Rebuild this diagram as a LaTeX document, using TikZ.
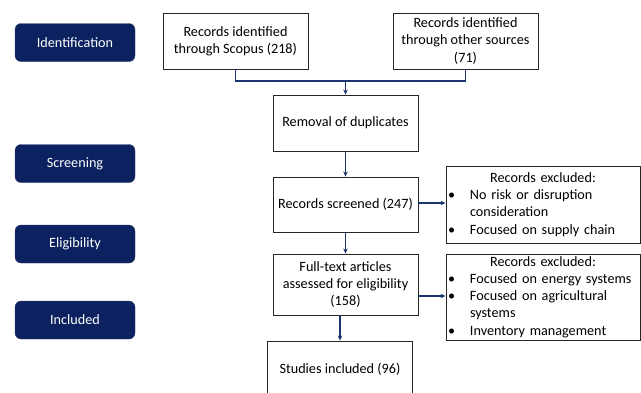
\documentclass[tikz,border=0pt]{standalone}
\usepackage{fontspec}
\setmainfont{Carlito}
\usetikzlibrary{arrows.meta,positioning}
\definecolor{navy}{HTML}{0C2260}
\definecolor{flow}{HTML}{1A3470}
\newcommand{\exitem}[1]{\par\noindent\hangindent=22pt\hangafter=1\makebox[22pt][l]{\textbullet}#1}

\begin{document}
\begin{tikzpicture}[x=1pt,y=-1pt,font=\fontsize{14.2}{17.2}\selectfont]
  \tikzstyle{stage}=[rectangle,rounded corners=6pt,fill=navy,draw=navy!70!gray,
                     text=white,minimum width=120pt,minimum height=38pt]
  \tikzstyle{stepbox}=[rectangle,draw=black!85,line width=0.9pt,fill=white,
                       align=center,minimum width=145pt,inner sep=2pt]
  \tikzstyle{exbox}=[rectangle,draw=black!85,line width=0.9pt,fill=white,
                     text width=190pt,minimum width=194pt,inner sep=2pt]
  \tikzstyle{flowline}=[draw=flow,line width=1.1pt]
  \tikzstyle{flowarrow}=[flowline,-{Stealth[length=5pt,width=4.5pt]}]

  \useasboundingbox (0,0) rectangle (641,392);

  \foreach \name/\y/\text in {ident/42.5/Identification, screen/163.5/Screening,
                              elig/244/Eligibility, incl/320/Included}
    \node[stage] (S-\name) at (75,\y) {\text};

  \node[stepbox,minimum height=56pt] (scopus) at (235.5,41)
    {Records identified\\through Scopus (218)};
  \node[stepbox,minimum height=56pt] (other) at (465.5,41)
    {Records identified\\through other sources\\(71)};
  \node[stepbox,minimum height=56pt] (dupl) at (345.5,123)
    {Removal of duplicates};
  \node[stepbox,minimum height=55pt] (screened) at (345.5,204.5)
    {Records screened (247)};
  \node[stepbox,minimum height=61pt] (fulltext) at (345.5,284.5)
    {Full-text articles\\assessed for eligibility\\(158)};
  \node[stepbox,minimum height=56pt] (studies) at (340,369)
    {Studies included (96)};

  \node[exbox,minimum height=77pt] (excl-1) at (543,204.5)
    {{\centering Records excluded:\par}\raggedright
     \exitem{No risk or disruption consideration}
     \exitem{Focused on supply chain}};
  \node[exbox,minimum height=86pt] (excl-2) at (543,297)
    {{\centering Records excluded:\par}\raggedright
     \exitem{Focused on energy systems}
     \exitem{Focused on agricultural systems}
     \exitem{Inventory management}};

  % merge of the two sources
  \coordinate (join) at (dupl.north |- 0,81);
  \draw[flowline] (scopus.south) |- (join) -| (other.south);
  \draw[flowarrow] (join) -- (dupl.north);

  \foreach \from/\to in {dupl/screened}
    \draw[flowarrow] (\from) -- (\to);
  \draw[flowarrow] (studies.north |- fulltext.south) -- (studies.north);
  \draw[flowarrow] (screened.south) -- (fulltext.north);

  \draw[flowarrow] (screened.east |- 0,203) -- (excl-1.west |- 0,203);
  \draw[flowarrow] (fulltext.east |- 0,296) -- (excl-2.west |- 0,296);
\end{tikzpicture}
\end{document}
